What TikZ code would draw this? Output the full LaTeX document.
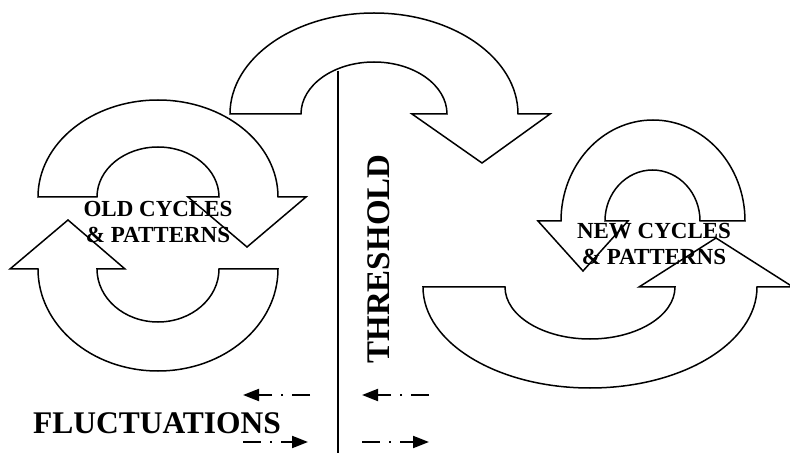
\documentclass[tikz,border=0pt]{standalone}
\usepackage{fontspec}
\setmainfont{Liberation Serif}
\usetikzlibrary{arrows.meta}
\begin{document}
\begin{tikzpicture}[x=1pt,y=1pt,
  cyclearrow/.style={draw=black,line width=1.5pt,line join=miter},
  bigtext/.style={font=\bfseries\fontsize{23}{26}\selectfont,align=center,inner sep=0pt},
  fluct/.style={draw=black,line width=2pt,dash pattern=on 18pt off 9pt on 2pt off 9pt on 60pt off 0pt,-{Triangle[length=16pt,width=12pt]}}
]
\useasboundingbox (0,0) rectangle (790,453);
% texts
\node[bigtext,anchor=base] (old) at (158,210) {OLD CYCLES\\\& PATTERNS};
\node[bigtext,anchor=base] (new) at (654,188) {NEW CYCLES\\\& PATTERNS};
\node[font=\bfseries\fontsize{33}{36}\selectfont,rotate=90,anchor=base,inner sep=0pt] (thr) at (389,194) {THRESHOLD};
\node[font=\bfseries\fontsize{31.5}{36}\selectfont,anchor=base,inner sep=0pt] (fl) at (157,20) {FLUCTUATIONS};
% threshold line
\coordinate (tlt) at (338,382);
\coordinate (tlb) at (338,0);
\draw[line width=2pt] (tlt) -- (tlb);
% left cycle, upper arc
\draw[cyclearrow] (38,256) arc[start angle=180,end angle=0,x radius=120pt,y radius=97pt]
  -- (306,256) -- (247,206) -- (188,256) -- (219,256)
  arc[start angle=0,end angle=180,x radius=61pt,y radius=50pt] -- cycle;
% left cycle, lower arc
\draw[cyclearrow] (278,184) arc[start angle=0,end angle=-180,x radius=120pt,y radius=102pt]
  -- (10,184) -- (68,233) -- (125,184) -- (97,184)
  arc[start angle=180,end angle=360,x radius=61pt,y radius=53pt] -- cycle;
% top bridging arc
\draw[cyclearrow] (230,339) arc[start angle=180,end angle=0,x radius=144pt,y radius=101pt]
  -- (550,339) -- (482,290) -- (412,339) -- (447,339)
  arc[start angle=0,end angle=180,x radius=73pt,y radius=52pt] -- cycle;
% right cycle, upper arc
\draw[cyclearrow] (745,232) arc[start angle=0,end angle=180,x radius=92pt,y radius=101pt]
  -- (538,232) -- (583,182) -- (628,232) -- (605,232)
  arc[start angle=180,end angle=0,x radius=47.5pt,y radius=51pt] -- cycle;
% right cycle, lower arc
\draw[cyclearrow] (423,166) arc[start angle=180,end angle=360,x radius=167pt,y radius=101pt]
  -- (793,166) -- (716,215) -- (639,166) -- (675,166)
  arc[start angle=0,end angle=-180,x radius=85pt,y radius=52pt] -- cycle;
% fluctuation arrows
\coordinate (la1) at (310,58); \coordinate (la2) at (243,58);
\coordinate (lb1) at (243,11); \coordinate (lb2) at (308,11);
\coordinate (ra1) at (429,58); \coordinate (ra2) at (362,58);
\coordinate (rb1) at (362,11); \coordinate (rb2) at (429,11);
\draw[fluct] (la1) -- (la2);
\draw[fluct] (lb1) -- (lb2);
\draw[fluct] (ra1) -- (ra2);
\draw[fluct] (rb1) -- (rb2);
\end{tikzpicture}
\end{document}
